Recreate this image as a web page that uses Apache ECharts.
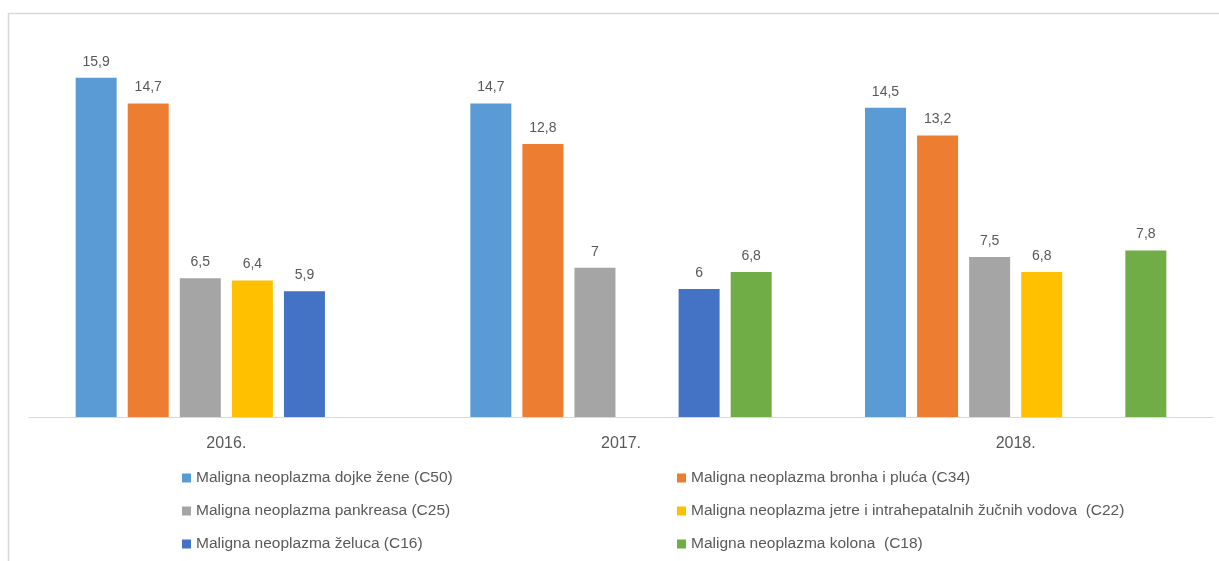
<!DOCTYPE html>
<html>

<head>
  <meta charset="utf-8">
  <title>Maligne neoplazme</title>
  <script src="https://cdn.jsdelivr.net/npm/echarts/dist/echarts.min.js"></script>
  <style>
    html, body {
      margin: 0;
      padding: 0;
      background: #fff;
    }

    #chart {
      width: 1219px;
      height: 561px;
    }
  </style>
</head>

<body>
  <div id="chart"></div>

  <script>
    // categories (years)
    const years = ['2016.', '2017.', '2018.'];

    // series names
    const names = [
      'Maligna neoplazma dojke žene (C50)',
      'Maligna neoplazma bronha i pluća (C34)',
      'Maligna neoplazma pankreasa (C25)',
      'Maligna neoplazma jetre i intrahepatalnih žučnih vodova  (C22)',
      'Maligna neoplazma želuca (C16)',
      'Maligna neoplazma kolona  (C18)'
    ];

    // values per series (null = no bar that year)
    const dojke = [15.9, 14.7, 14.5];
    const bronha = [14.7, 12.8, 13.2];
    const pankreas = [6.5, 7, 7.5];
    const jetre = [6.4, null, 6.8];
    const zeluca = [5.9, 6, null];
    const kolona = [null, 6.8, 7.8];

    const colors = ['#5B9BD5', '#ED7D31', '#A5A5A5', '#FFC000', '#4472C4', '#70AD47'];

    const font = '"Liberation Sans", Arial, sans-serif';
    const textColor = '#595959';

    const values = [dojke, bronha, pankreas, jetre, zeluca, kolona];

    const series = values.map((v, i) => ({
      name: names[i],
      type: 'bar',
      data: v.map(x => x === null ? '-' : x),
      barWidth: 41,
      barGap: '27%',
      itemStyle: { color: colors[i] },
      label: {
        show: true,
        position: 'top',
        distance: 9,
        color: textColor,
        fontFamily: font,
        fontSize: 14,
        formatter: p => String(p.value).replace('.', ',')
      }
    }));

    const legendBase = {
      orient: 'vertical',
      top: 465,
      itemWidth: 9,
      itemHeight: 9,
      itemGap: 17,
      icon: 'rect',
      textStyle: { color: textColor, fontFamily: font, fontSize: 15.5 }
    };

    const chart = echarts.init(document.getElementById('chart'));
    chart.setOption({
      animation: false,
      color: colors,
      graphic: [{
        type: 'rect',
        shape: { x: 8.5, y: 13.5, width: 1400, height: 700 },
        style: { fill: 'none', stroke: '#d9d9d9', lineWidth: 1.5 },
        silent: true
      }],
      grid: { left: 29, right: 6, top: 33, bottom: 144 },
      xAxis: {
        type: 'category',
        data: years,
        axisLine: { lineStyle: { color: '#d9d9d9', width: 1 } },
        axisTick: { show: false },
        axisLabel: { color: textColor, fontFamily: font, fontSize: 16, margin: 19 }
      },
      yAxis: {
        type: 'value',
        min: 0,
        max: 18,
        show: false,
        splitLine: { show: false }
      },
      legend: [
        Object.assign({}, legendBase, { left: 177, data: [names[0], names[2], names[4]] }),
        Object.assign({}, legendBase, { left: 672, data: [names[1], names[3], names[5]] })
      ],
      series: series
    });
  </script>
</body>

</html>
